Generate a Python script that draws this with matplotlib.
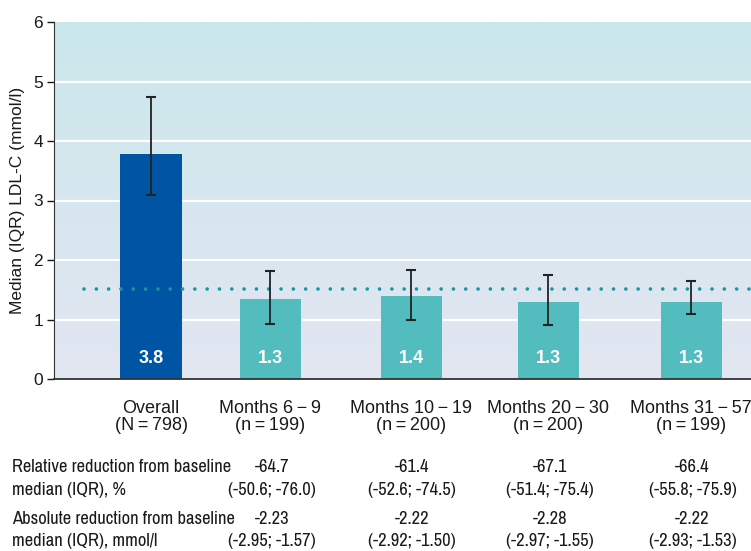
import numpy as np
import matplotlib
matplotlib.use("Agg")
import matplotlib.pyplot as plt
from matplotlib import font_manager
from matplotlib.colors import LinearSegmentedColormap
from matplotlib.transforms import blended_transform_factory

plt.rcParams["font.family"] = ["Liberation Sans", "DejaVu Sans"]

# pick a narrow face for the table if one is installed
fonts = font_manager.fontManager.ttflist
narrow = dict(family="Liberation Sans")
for f in fonts:
    if "Narrow" in f.name:
        narrow = dict(family=f.name)
        break
else:
    for f in fonts:
        if f.name == "DejaVu Sans" and f.stretch == "condensed":
            narrow = dict(family="DejaVu Sans", stretch="condensed")
            break

# data
groups = ["Overall\n(N\u2009=\u2009798)", "Months 6\u2009\u2212\u20099\n(n\u2009=\u2009199)",
          "Months 10\u2009\u2212\u200919\n(n\u2009=\u2009200)", "Months 20\u2009\u2212\u200930\n(n\u2009=\u2009200)",
          "Months 31\u2009\u2212\u200957\n(n\u2009=\u2009199)"]
median = [3.78, 1.34, 1.39, 1.29, 1.29]
q1 = [3.09, 0.92, 1.00, 0.91, 1.10]
q3 = [4.74, 1.82, 1.83, 1.74, 1.64]
bar_labels = ["3.8", "1.3", "1.4", "1.3", "1.3"]
target = 1.52

row_names = ["Relative reduction from baseline", "median (IQR), %",
             "Absolute reduction from baseline", "median (IQR), mmol/l"]
rel_median = ["-64.7", "-61.4", "-67.1", "-66.4"]
rel_iqr = ["(-50.6; -76.0)", "(-52.6; -74.5)", "(-51.4; -75.4)", "(-55.8; -75.9)"]
abs_median = ["-2.23", "-2.22", "-2.28", "-2.22"]
abs_iqr = ["(-2.95; -1.57)", "(-2.92; -1.50)", "(-2.97; -1.55)", "(-2.93; -1.53)"]

# layout (uneven category spacing as in the original)
x_pos = np.array([0, 1, 2.185, 3.336, 4.538])
colors = ["#0054a4", "#52bcbe", "#52bcbe", "#52bcbe", "#52bcbe"]
txt = "#1a1a1a"

fig = plt.figure(figsize=(7.51, 5.51), dpi=100)
ax = fig.add_axes([54 / 751, 172 / 551, 697 / 751, 357 / 551])
xmin, xmax = -0.815, 5.04

# gradient background
cmap = LinearSegmentedColormap.from_list("bg", ["#e3e6f2", "#cae8eb"])
grad = np.linspace(0, 1, 256).reshape(-1, 1)
ax.imshow(grad, cmap=cmap, origin="lower", aspect="auto",
          extent=[xmin, xmax, 0, 6], zorder=0)

for yv in range(1, 6):
    ax.axhline(yv, color="white", lw=1.6, zorder=1)

err = [np.array(median) - np.array(q1), np.array(q3) - np.array(median)]
ax.bar(x_pos, median, width=0.513, color=colors, zorder=2)
ax.errorbar(x_pos, median, yerr=err, fmt="none", ecolor="#222222",
            elinewidth=1.3, capsize=3.5, capthick=1.5, zorder=4)

ax.plot([-0.56, xmax], [target, target], color="#1a959d", lw=2.6,
        linestyle=(0, (0.01, 3.4)), dash_capstyle="round", zorder=3)

for x, lab in zip(x_pos, bar_labels):
    ax.text(x, 0.34, lab, color="white", fontsize=13, fontweight="bold",
            ha="center", va="center", zorder=5)

ax.set_xlim(xmin, xmax)
ax.set_ylim(0, 6)
ax.set_yticks(range(7))
ax.set_xticks(x_pos)
ax.set_xticklabels(groups, fontsize=13, color=txt, linespacing=1.0)
ax.tick_params(axis="x", length=0, pad=15)
ax.tick_params(axis="y", labelsize=12.5, colors=txt, length=5, width=1, pad=3)
ax.set_ylabel("Median (IQR) LDL-C (mmol/l)", fontsize=12.5, color=txt, labelpad=6)
for s in ["top", "right"]:
    ax.spines[s].set_visible(False)
ax.spines["left"].set_color("#333333")
ax.spines["bottom"].set_color("#333333")
ax.spines["bottom"].set_linewidth(1.3)

# table below the chart, font sized so the long row name is ~220 px wide
probe = fig.text(0, 0, row_names[0], fontsize=13, **narrow)
w = probe.get_window_extent(renderer=fig.canvas.get_renderer()).width
probe.remove()
fs = min(13.5, 13 * 220 / w)

tr = blended_transform_factory(ax.transData, fig.transFigure)
rows_y = [1 - 467 / 551, 1 - 490 / 551, 1 - 519 / 551, 1 - 541 / 551]
for yv, name in zip(rows_y, row_names):
    fig.text(12 / 751, yv, name, fontsize=fs, color=txt,
             ha="left", va="center", **narrow)
cols = [1.017, 2.19, 3.35, 4.55]
for col, vals in zip(cols, zip(rel_median, rel_iqr, abs_median, abs_iqr)):
    for yv, v in zip(rows_y, vals):
        ax.text(col, yv, v, transform=tr, fontsize=fs, color=txt,
                ha="center", va="center", clip_on=False, **narrow)

fig.savefig("out.png", dpi=100)
